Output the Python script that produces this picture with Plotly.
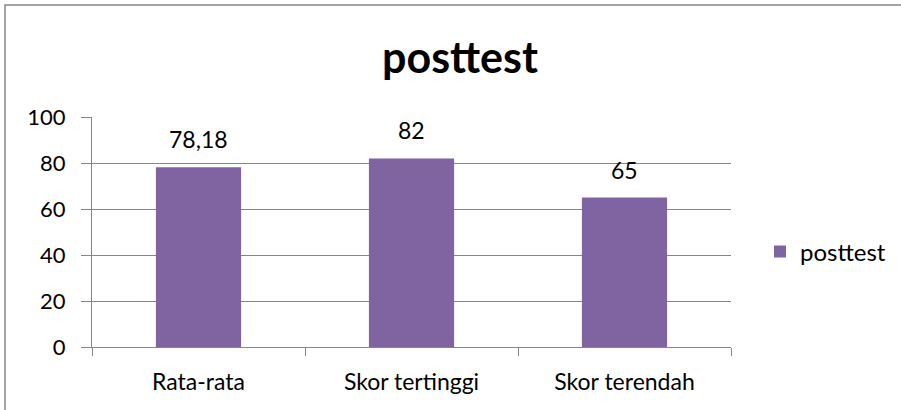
import plotly.graph_objects as go

categories = ["Rata-rata", "Skor tertinggi", "Skor terendah"]
values = [78.18, 82, 65]
labels = ["78,18", "82", "65"]
series_name = "posttest"

L, R, T, B = 92, 170, 117, 63
W, H = 901, 410
pw, ph = W - L - R, H - T - B

fig = go.Figure()
fig.add_trace(go.Bar(
    x=categories, y=values, name=series_name,
    marker=dict(color="#8064A2", line=dict(width=0)),
))

for c, v, t in zip(categories, values, labels):
    fig.add_annotation(x=c, y=v, text=t, showarrow=False, xref="x", yref="y",
                       yanchor="bottom", yshift=12,
                       font=dict(size=23, color="#000000"))

fig.update_layout(
    width=W, height=H,
    margin=dict(l=L, r=R, t=T, b=B, autoexpand=False),
    paper_bgcolor="white", plot_bgcolor="white",
    font=dict(family="Lato, Open Sans, sans-serif", size=22, color="#000000"),
    bargap=0.6,
    showlegend=True,
    title=dict(text="<b>posttest</b>", x=460 / W, xanchor="center",
               y=1 - 58 / H, yanchor="middle", yref="container",
               font=dict(size=43, color="#000000")),
    legend=dict(x=(760 - L) / pw, y=(H - B - 252) / ph, xanchor="left", yanchor="middle",
                font=dict(size=24), bgcolor="rgba(0,0,0,0)", itemwidth=30),
    xaxis=dict(showline=True, linecolor="#868686", linewidth=1,
               ticks="outside", tickson="boundaries", ticklen=8, tickcolor="#868686",
               ticklabelstandoff=14,
               showgrid=False, tickfont=dict(size=23)),
    yaxis=dict(range=[0, 100], dtick=20, showline=True, linecolor="#868686", linewidth=1,
               ticks="outside", ticklen=10, tickcolor="#868686",
               ticklabelstandoff=11,
               showgrid=True, gridcolor="#868686", gridwidth=1, zeroline=False,
               tickfont=dict(size=22)),
    shapes=[dict(type="rect", xref="paper", yref="paper",
                 x0=(5 - L) / pw, x1=(W + 20 - L) / pw,
                 y0=(H - B - (H + 20)) / ph, y1=(H - B - 5) / ph,
                 line=dict(color="#868686", width=1.5), fillcolor="rgba(0,0,0,0)",
                 layer="below")],
)

fig.write_html("out.html", config={"displayModeBar": False},
               post_script="document.body.style.margin='0';document.body.style.overflow='hidden';")
